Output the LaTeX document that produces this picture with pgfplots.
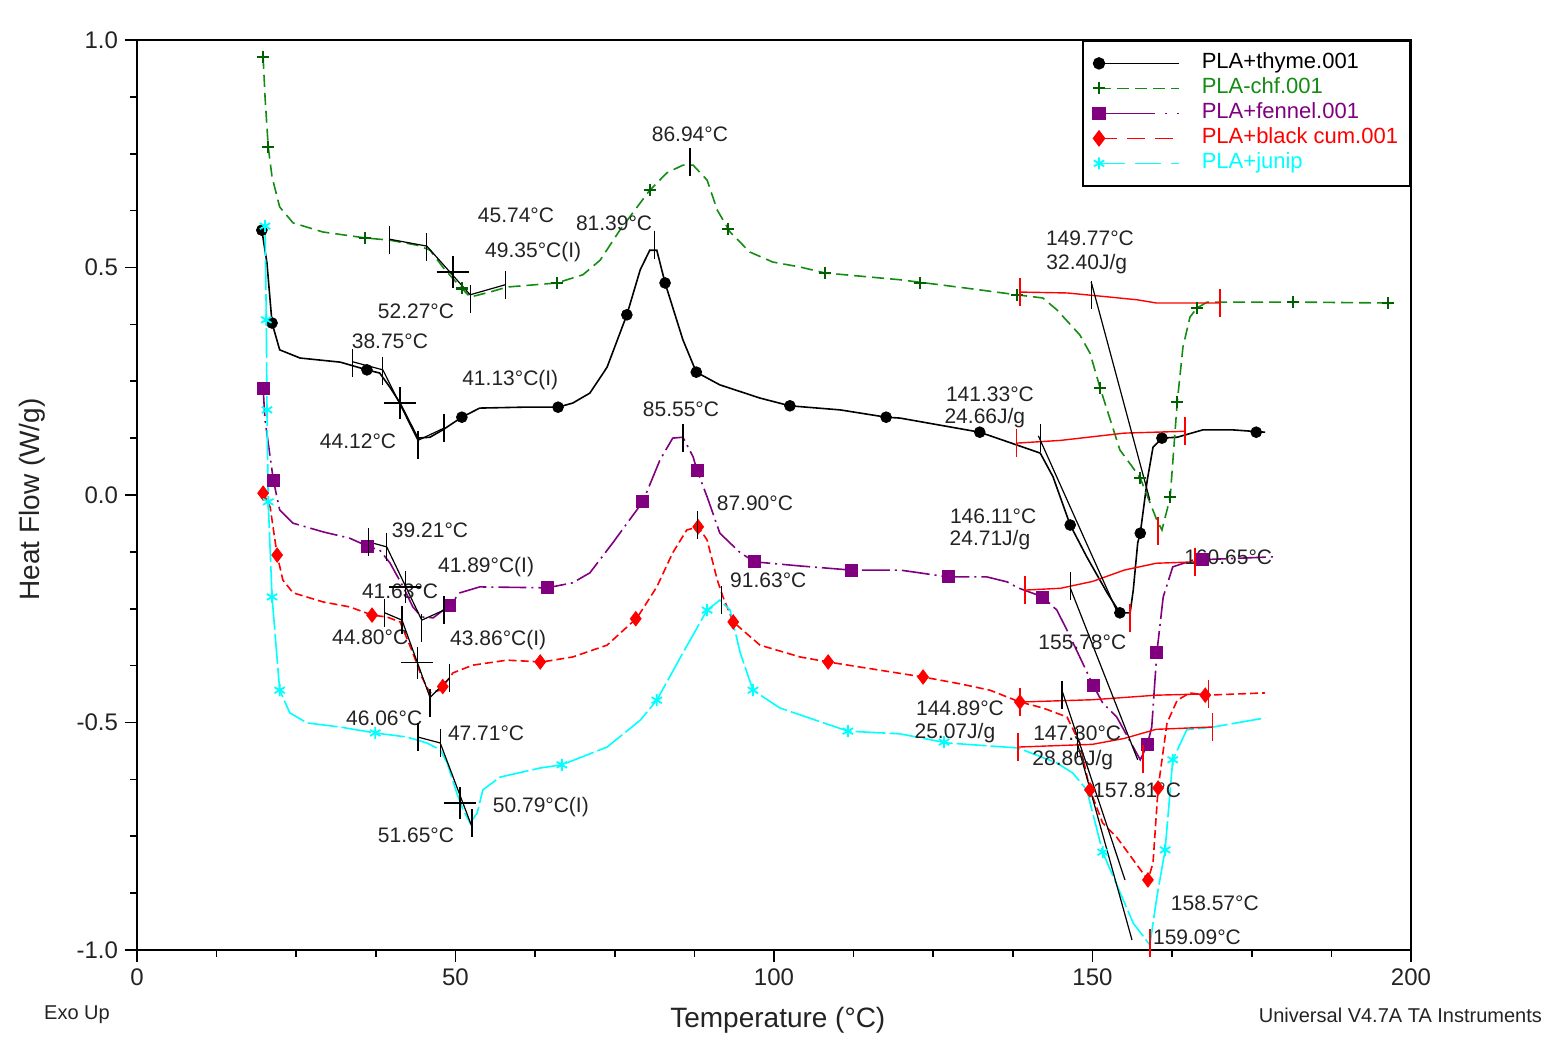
\documentclass[border=0pt]{standalone}
\usepackage{fontspec}
\setmainfont{Liberation Sans}
\usepackage{pgfplots}
\pgfplotsset{compat=1.18}
\definecolor{cgreen}{RGB}{20,140,20}
\definecolor{cgreenmk}{RGB}{0,95,0}
\definecolor{cpurple}{RGB}{128,0,128}
\definecolor{cred}{RGB}{255,0,0}
\definecolor{ccyan}{RGB}{0,255,255}
\definecolor{labgray}{RGB}{35,35,35}
\tikzset{lab/.style={font=\fontsize{10.5}{12}\selectfont, text=labgray, inner sep=0pt}}
\begin{document}
\begin{tikzpicture}
\useasboundingbox (-68.5pt,-44pt) rectangle (706pt,475pt);
\begin{axis}[
  at={(0pt,0pt)}, anchor=south west,
  scale only axis, width=637pt, height=455pt,
  xmin=0, xmax=200, ymin=-1, ymax=1,
  clip=false,
  axis line style={black, line width=0.9pt},
  xtick={0,50,100,150,200}, xticklabels={0,50,100,150,200},
  ytick={-1,-0.5,0,0.5,1}, yticklabels={-1.0,-0.5,0.0,0.5,1.0},
  minor x tick num=3, minor y tick num=3,
  tick pos=left, tick align=outside,
  major tick length=6pt, minor tick length=3.5pt,
  tick style={black, line width=0.8pt},
  ticklabel style={font=\fontsize{12}{14}\selectfont, text=labgray},
  xlabel={Temperature (°C)},
  xlabel style={at={(rel axis cs:0.503,0)}, anchor=center, yshift=-35pt, font=\fontsize{14}{16}\selectfont, text=labgray},
  ylabel={Heat Flow (W/g)},
  ylabel style={at={(rel axis cs:0,0.495)}, anchor=center, yshift=52.5pt, font=\fontsize{14}{16}\selectfont, text=labgray},
  legend style={at={(rel axis cs:1,1)}, anchor=north east, draw=black, line width=0.9pt,
    font=\fontsize{11}{13}\selectfont, inner sep=5pt, row sep=0pt,
    cells={anchor=west}, nodes={inner sep=1pt, text height=8pt, text depth=2.5pt},
    /tikz/every odd column/.append style={column sep=10pt}},
  legend image code/.code={\draw[#1,mark=none] (0pt,0pt) -- (40pt,0pt); \draw[#1] plot coordinates {(0pt,0pt)};},
]
% ---------- PLA+thyme ----------
\addplot[black, line width=0.8pt, forget plot] coordinates {
(19.6,0.582)(20.4,0.510)(21.2,0.378)(22.4,0.319)(25.6,0.301)(31.9,0.292)(36.1,0.275)(38.1,0.268)(39.7,0.237)(41.3,0.202)(42.9,0.158)(44.1,0.125)(46.0,0.127)(48.0,0.143)(51.0,0.171)(53.8,0.191)(60.6,0.193)(66.1,0.193)(68.4,0.202)(71.1,0.224)(73.8,0.281)(76.9,0.396)(79.0,0.495)(80.5,0.538)(81.6,0.538)(82.9,0.466)(85.7,0.341)(87.8,0.270)(91.5,0.242)(97.8,0.213)(102.5,0.196)(110.4,0.187)(117.6,0.171)(119.8,0.169)(132.3,0.138)(138.1,0.110)(141.8,0.092)(143.8,0.040)(146.5,-0.066)(149.1,-0.136)(152.3,-0.215)(154.3,-0.259)(155.9,-0.259)(156.4,-0.209)(157.1,-0.105)(157.5,-0.084)(158.6,0.033)(159.5,0.105)(160.9,0.125)(163.3,0.127)(167.3,0.143)(172.1,0.143)(177.1,0.138)};
\addplot[only marks, black, mark=*, mark size=2.7pt, forget plot] coordinates {
(19.6,0.582)(21.2,0.378)(36.1,0.275)(51.0,0.171)(66.1,0.193)(76.9,0.396)(82.9,0.466)(87.8,0.270)(102.5,0.196)(117.6,0.171)(132.3,0.138)(146.5,-0.066)(154.3,-0.259)(157.5,-0.084)(160.9,0.125)(175.7,0.138)};
% ---------- PLA-chf ----------
\addplot[cgreen, line width=0.8pt, dash pattern=on 6pt off 3pt, forget plot] coordinates {
(19.8,0.963)(20.1,0.875)(20.6,0.765)(21.2,0.699)(22.4,0.633)(24.5,0.598)(29.2,0.578)(35.8,0.565)(39.7,0.560)(44.0,0.549)(46.0,0.538)(48.0,0.501)(50.2,0.466)(52.3,0.435)(55.4,0.446)(58.1,0.457)(65.9,0.466)(70.0,0.484)(72.7,0.516)(75.8,0.582)(79.0,0.642)(80.5,0.670)(83.2,0.708)(85.7,0.725)(87.3,0.725)(89.5,0.692)(91.1,0.626)(93.1,0.578)(96.2,0.534)(99.8,0.512)(104.1,0.501)(108.0,0.488)(119.8,0.473)(130,0.455)(138.1,0.440)(142.2,0.433)(144.4,0.407)(148.0,0.352)(149.6,0.312)(151.2,0.235)(154.3,0.099)(156.4,0.059)(157.5,0.037)(160.1,-0.055)(160.9,-0.077)(161.7,-0.033)(162.2,-0.004)(163.3,0.204)(164.2,0.325)(165.3,0.391)(166.4,0.411)(168.0,0.424)(170.3,0.424)(181.5,0.424)(196.4,0.422)};
\addplot[only marks, cgreenmk, mark=+, mark size=3pt, line width=1.1pt, forget plot] coordinates {
(19.8,0.963)(20.6,0.765)(35.8,0.565)(51.0,0.454)(65.9,0.466)(80.5,0.670)(92.8,0.585)(108,0.488)(122.9,0.466)(138.1,0.440)(151.2,0.235)(157.5,0.037)(162.2,-0.004)(163.3,0.204)(166.4,0.411)(181.5,0.424)(196.4,0.422)};
% ---------- PLA+fennel ----------
\addplot[cpurple, line width=0.8pt, dash pattern=on 14pt off 2.5pt on 1pt off 2.5pt, forget plot] coordinates {
(19.8,0.235)(20.1,0.165)(20.9,0.084)(21.4,0.033)(22.4,-0.033)(24.5,-0.062)(29.2,-0.081)(33.4,-0.095)(36.1,-0.112)(38.1,-0.121)(39.7,-0.149)(41.8,-0.202)(43.3,-0.246)(44.7,-0.268)(46.5,-0.270)(49.1,-0.242)(50.7,-0.215)(53.8,-0.202)(64.4,-0.204)(68.4,-0.193)(71.1,-0.171)(74.7,-0.105)(79.4,-0.015)(82.1,0.077)(84.1,0.125)(85.7,0.127)(87.3,0.084)(87.9,0.055)(89.5,-0.004)(91.5,-0.084)(94.7,-0.127)(97.0,-0.147)(104.1,-0.156)(112.1,-0.165)(119.8,-0.165)(127.3,-0.180)(133.4,-0.180)(136.6,-0.191)(138.3,-0.204)(142.2,-0.224)(144.4,-0.253)(146.0,-0.297)(148.0,-0.356)(150.1,-0.418)(151.6,-0.457)(153.8,-0.488)(156.4,-0.554)(157.5,-0.582)(158.6,-0.549)(159.3,-0.510)(160.1,-0.347)(161.1,-0.224)(162.6,-0.158)(165.8,-0.143)(178.3,-0.136)};
\addplot[only marks, cpurple, mark=square*, mark size=3pt, forget plot] coordinates {
(19.8,0.235)(21.4,0.033)(36.1,-0.112)(49.1,-0.242)(64.4,-0.204)(79.4,-0.015)(87.9,0.055)(97.0,-0.147)(112.1,-0.165)(127.3,-0.180)(142.2,-0.224)(150.1,-0.418)(158.6,-0.549)(160.1,-0.347)(167.2,-0.142)};
% ---------- PLA+black cum ----------
\addplot[cred, line width=0.8pt, dash pattern=on 4pt off 2pt, forget plot] coordinates {
(19.8,0.004)(20.9,-0.026)(22.0,-0.132)(22.9,-0.187)(24.5,-0.215)(29.2,-0.235)(33.4,-0.246)(36.9,-0.264)(39.2,-0.268)(41.3,-0.279)(43.3,-0.347)(44.7,-0.400)(46.0,-0.435)(47.6,-0.429)(49.6,-0.391)(52.7,-0.374)(58.1,-0.363)(63.6,-0.367)(68.4,-0.356)(73.8,-0.330)(78.5,-0.270)(81.6,-0.202)(84.1,-0.127)(86.3,-0.077)(88.1,-0.070)(89.5,-0.099)(91.1,-0.187)(92.0,-0.224)(93.6,-0.279)(97.8,-0.330)(104.1,-0.356)(108.5,-0.367)(116.6,-0.385)(123.4,-0.400)(129.2,-0.415)(133.9,-0.429)(138.6,-0.455)(142.2,-0.468)(146.0,-0.488)(148.0,-0.545)(149.6,-0.648)(151.6,-0.721)(153.8,-0.752)(156.4,-0.802)(158.7,-0.846)(159.5,-0.809)(160.3,-0.644)(161.7,-0.501)(163.3,-0.451)(165.3,-0.435)(167.7,-0.440)(177.1,-0.435)};
\addplot[only marks, cred, mark=diamond*, mark size=3.6pt, forget plot] coordinates {
(19.8,0.004)(22.0,-0.132)(36.9,-0.264)(48.0,-0.421)(63.3,-0.367)(78.3,-0.272)(88.1,-0.070)(93.6,-0.279)(108.5,-0.367)(123.4,-0.400)(138.6,-0.455)(149.6,-0.648)(158.7,-0.846)(160.3,-0.644)(167.7,-0.440)};
% ---------- PLA+junip ----------
\addplot[ccyan, line width=0.8pt, dash pattern=on 15pt off 2pt, forget plot] coordinates {
(20.1,0.591)(20.3,0.385)(20.4,0.187)(20.6,-0.015)(21.2,-0.224)(22.4,-0.429)(24.0,-0.479)(26.7,-0.501)(31.9,-0.510)(37.4,-0.523)(42.4,-0.532)(45.5,-0.545)(47.6,-0.560)(48.7,-0.589)(50.2,-0.655)(51.2,-0.692)(52.3,-0.721)(53.4,-0.699)(54.3,-0.648)(57.0,-0.620)(63.3,-0.600)(66.7,-0.593)(73.8,-0.554)(79.0,-0.495)(81.6,-0.451)(85.7,-0.347)(89.5,-0.253)(91.5,-0.231)(93.1,-0.253)(94.7,-0.347)(96.7,-0.429)(100.9,-0.468)(111.6,-0.519)(119.8,-0.525)(127.2,-0.545)(138.3,-0.556)(144.4,-0.589)(146.9,-0.611)(149.1,-0.648)(151.6,-0.785)(156.4,-0.941)(159.0,-0.989)(160.1,-0.884)(161.4,-0.780)(162.6,-0.582)(164.8,-0.516)(168.9,-0.510)(177.1,-0.490)};
\addplot[only marks, ccyan, mark=asterisk, mark size=3pt, line width=0.9pt, forget plot] coordinates {
(20.1,0.591)(20.3,0.385)(20.4,0.187)(20.6,-0.015)(21.2,-0.224)(22.4,-0.429)(37.4,-0.523)(66.7,-0.593)(81.6,-0.451)(89.5,-0.253)(96.7,-0.429)(111.6,-0.519)(126.7,-0.543)(151.6,-0.785)(161.4,-0.780)(162.6,-0.582)};
% ---------- analysis: glass transitions ----------
\addplot[black, line width=0.6pt, forget plot] coordinates {(39.7,0.562)(45.5,0.547)(52.3,0.440)(57.8,0.462)};
\addplot[black, line width=0.6pt, forget plot] coordinates {(33.8,0.293)(38.6,0.275)(44.1,0.120)(48.2,0.147)};
\addplot[black, line width=0.6pt, forget plot] coordinates {(36.3,-0.103)(39.2,-0.114)(44.7,-0.275)(48.2,-0.253)};
\addplot[black, line width=0.6pt, forget plot] coordinates {(38.9,-0.259)(41.6,-0.275)(46.0,-0.445)(49.1,-0.402)};
\addplot[black, line width=0.6pt, forget plot] coordinates {(44.1,-0.532)(47.6,-0.545)(52.6,-0.730)};
\addplot[only marks, black, mark=|, mark size=7pt, line width=0.6pt, forget plot] coordinates {
(39.7,0.560)(45.5,0.545)(52.3,0.43)(57.8,0.462)(33.8,0.290)(38.6,0.272)(44.1,0.11)(48.2,0.147)
(36.3,-0.103)(39.2,-0.114)(44.7,-0.292)(48.2,-0.253)(38.9,-0.259)(41.6,-0.275)(46.0,-0.457)(49.1,-0.402)
(44.1,-0.532)(47.6,-0.545)(52.6,-0.721)
(86.8,0.732)(81.2,0.55)(85.7,0.125)(88.0,-0.066)(91.8,-0.231)
(149.8,0.44)(141.8,0.125)(146.5,-0.2)(145.2,-0.44)(147.6,-0.545)};
\addplot[only marks, black, mark=+, mark size=8pt, line width=0.6pt, forget plot] coordinates {
(49.6,0.490)(41.3,0.202)(42.1,-0.202)(44.0,-0.369)(50.7,-0.677)};
% ---------- analysis: melting ----------
\addplot[cred, line width=0.7pt, forget plot] coordinates {(138.6,0.446)(146,0.444)(152,0.436)(157,0.429)(160,0.422)(170,0.422)};
\addplot[cred, line width=0.7pt, forget plot] coordinates {(138.1,0.114)(145,0.120)(150,0.128)(155,0.136)(164.5,0.140)};
\addplot[cred, line width=0.7pt, forget plot] coordinates {(139.4,-0.209)(145,-0.205)(150,-0.19)(155,-0.165)(160,-0.15)(166.1,-0.147)};
\addplot[cred, line width=0.7pt, forget plot] coordinates {(138.6,-0.455)(150,-0.45)(160,-0.44)(168.2,-0.437)};
\addplot[cred, line width=0.7pt, forget plot] coordinates {(138.3,-0.554)(150,-0.548)(155,-0.535)(160,-0.515)(168.8,-0.51)};
\addplot[only marks, cred, mark=|, mark size=7pt, line width=0.7pt, forget plot] coordinates {
(138.6,0.446)(170,0.422)(160.3,-0.08)(138.1,0.114)(164.5,0.140)(155.9,-0.27)
(139.4,-0.209)(166.1,-0.147)(157.9,-0.58)(138.6,-0.455)(168.2,-0.437)(138.3,-0.554)(168.8,-0.51)(159.0,-0.985)};
\addplot[black, line width=0.6pt, forget plot] coordinates {(149.8,0.468)(159.0,-0.011)};
\addplot[black, line width=0.6pt, forget plot] coordinates {(141.5,0.13)(154.3,-0.27)};
\addplot[black, line width=0.6pt, forget plot] coordinates {(146.5,-0.204)(157.1,-0.582)};
\addplot[black, line width=0.6pt, forget plot] coordinates {(145.2,-0.429)(155.1,-0.846)};
\addplot[black, line width=0.6pt, forget plot] coordinates {(147.6,-0.545)(156.2,-0.978)};
% ---------- labels ----------
\node[lab] at (axis cs:86.8,0.793) {86.94°C};
\node[lab] at (axis cs:59.5,0.615) {45.74°C};
\node[lab] at (axis cs:74.9,0.598) {81.39°C};
\node[lab] at (axis cs:62.2,0.534) {49.35°C(I)};
\node[lab] at (axis cs:43.8,0.404) {52.27°C};
\node[lab] at (axis cs:39.7,0.338) {38.75°C};
\node[lab] at (axis cs:58.6,0.253) {41.13°C(I)};
\node[lab] at (axis cs:34.7,0.119) {44.12°C};
\node[lab] at (axis cs:85.4,0.189) {85.55°C};
\node[lab] at (axis cs:97.0,-0.018) {87.90°C};
\node[lab] at (axis cs:46.0,-0.077) {39.21°C};
\node[lab] at (axis cs:54.8,-0.158) {41.89°C(I)};
\node[lab] at (axis cs:41.3,-0.211) {41.63°C};
\node[lab] at (axis cs:99.1,-0.187) {91.63°C};
\node[lab] at (axis cs:36.6,-0.312) {44.80°C};
\node[lab] at (axis cs:56.7,-0.319) {43.86°C(I)};
\node[lab] at (axis cs:38.8,-0.490) {46.06°C};
\node[lab] at (axis cs:54.8,-0.523) {47.71°C};
\node[lab] at (axis cs:63.4,-0.686) {50.79°C(I)};
\node[lab] at (axis cs:43.8,-0.747) {51.65°C};
\node[lab] at (axis cs:149.6,0.565) {149.77°C};
\node[lab] at (axis cs:149.1,0.508) {32.40J/g};
\node[lab] at (axis cs:133.9,0.222) {141.33°C};
\node[lab] at (axis cs:133.1,0.169) {24.66J/g};
\node[lab] at (axis cs:134.4,-0.046) {146.11°C};
\node[lab] at (axis cs:133.9,-0.099) {24.71J/g};
\node[lab] at (axis cs:171.3,-0.136) {160.65°C};
\node[lab] at (axis cs:148.4,-0.323) {155.78°C};
\node[lab] at (axis cs:129.2,-0.468) {144.89°C};
\node[lab] at (axis cs:128.4,-0.523) {25.07J/g};
\node[lab] at (axis cs:147.6,-0.523) {147.30°C};
\node[lab] at (axis cs:146.9,-0.582) {28.86J/g};
\node[lab] at (axis cs:157.0,-0.648) {157.81°C};
\node[lab] at (axis cs:169.2,-0.897) {158.57°C};
\node[lab] at (axis cs:166.4,-0.971) {159.09°C};
\node[font=\fontsize{10}{12}\selectfont, text=labgray, anchor=center] at (rel axis cs:0,0) [xshift=-30pt, yshift=-32.5pt] {Exo Up};
\node[font=\fontsize{10}{12}\selectfont, text=labgray, anchor=east] at (rel axis cs:0,0) [xshift=706pt, yshift=-32.5pt] {Universal V4.7A TA Instruments};
% ---------- legend ----------
\addlegendimage{black, line width=0.8pt, mark=*, mark size=2.7pt}
\addlegendentry{PLA+thyme.001}
\addlegendimage{cgreen, line width=0.8pt, dash pattern=on 6pt off 3pt, mark=+, mark size=3pt, mark options={solid, cgreenmk, line width=1.1pt}}
\addlegendentry{\textcolor{cgreen}{PLA-chf.001}}
\addlegendimage{cpurple, line width=0.8pt, dash pattern=on 28pt off 5pt on 1pt off 5pt, mark=square*, mark size=3pt, mark options={solid}}
\addlegendentry{\textcolor{cpurple}{PLA+fennel.001}}
\addlegendimage{cred, line width=0.8pt, dash pattern=on 9pt off 5pt, mark=diamond*, mark size=3.6pt, mark options={solid}}
\addlegendentry{\textcolor{cred}{PLA+black cum.001}}
\addlegendimage{ccyan, line width=0.8pt, dash pattern=on 13pt off 5pt, mark=asterisk, mark size=3pt, mark options={solid, line width=0.9pt}}
\addlegendentry{\textcolor{ccyan}{PLA+junip}}
\end{axis}
\end{tikzpicture}
\end{document}
